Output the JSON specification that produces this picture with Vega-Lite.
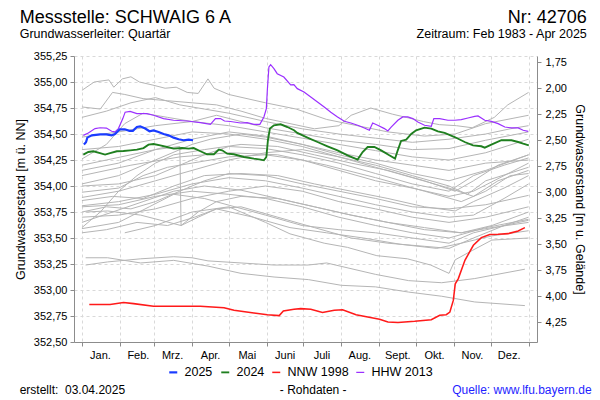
{
"$schema": "https://vega.github.io/schema/vega-lite/v6.json",
"width": 463, "height": 286,
"autosize": {"type": "none"},
"padding": {"left": 74, "top": 56, "right": 63, "bottom": 58},
"background": "white",
"config": {
  "font": "Liberation Sans",
  "view": {"stroke": null},
  "axis": {"labelFont": "Liberation Sans", "titleFont": "Liberation Sans", "labelColor": "#000", "titleColor": "#000", "titleFontWeight": "normal", "domainColor": "#8c8c8c", "tickColor": "#8c8c8c", "gridColor": "#d9d9d9", "gridDash": [3, 3], "tickSize": 4, "labelFontSize": 11, "titleFontSize": 12.5},
  "legend": {"orient": "none", "legendX": 93, "legendY": 310, "direction": "horizontal", "symbolType": "stroke", "symbolSize": 64, "symbolStrokeWidth": 2, "labelFontSize": 12.5, "labelFont": "Liberation Sans", "labelColor": "#000", "columnPadding": 4, "padding": 0, "labelOffset": 5}
},
"datasets": {
"gray": [
{"s":"g01","d":0,"v":354.92},{"s":"g01","d":10,"v":355.0},{"s":"g01","d":22,"v":355.02},{"s":"g01","d":26,"v":354.95},{"s":"g01","d":33,"v":355.03},{"s":"g01","d":40,"v":355.05},{"s":"g01","d":47,"v":355.0},{"s":"g01","d":58,"v":354.97},{"s":"g01","d":68,"v":354.94},{"s":"g01","d":77,"v":354.95},{"s":"g01","d":86,"v":354.9},{"s":"g01","d":95,"v":354.89},{"s":"g01","d":103,"v":355.03},{"s":"g01","d":108,"v":354.94},{"s":"g01","d":120,"v":354.88},{"s":"g01","d":150,"v":354.8},{"s":"g01","d":175,"v":354.74},{"s":"g01","d":200,"v":354.64},{"s":"g01","d":225,"v":354.58},{"s":"g01","d":250,"v":354.52},{"s":"g01","d":280,"v":354.48},{"s":"g01","d":305,"v":354.5},{"s":"g01","d":330,"v":354.6},{"s":"g01","d":365,"v":354.68},
{"s":"g02","d":0,"v":354.76},{"s":"g02","d":15,"v":354.74},{"s":"g02","d":25,"v":354.9},{"s":"g02","d":35,"v":354.88},{"s":"g02","d":50,"v":354.84},{"s":"g02","d":70,"v":354.82},{"s":"g02","d":90,"v":354.8},{"s":"g02","d":110,"v":354.78},{"s":"g02","d":130,"v":354.72},{"s":"g02","d":150,"v":354.65},{"s":"g02","d":170,"v":354.6},{"s":"g02","d":190,"v":354.55},{"s":"g02","d":210,"v":354.58},{"s":"g02","d":220,"v":354.68},{"s":"g02","d":236,"v":354.75},{"s":"g02","d":254,"v":354.69},{"s":"g02","d":265,"v":354.66},{"s":"g02","d":279,"v":354.62},{"s":"g02","d":292,"v":354.59},{"s":"g02","d":306,"v":354.58},{"s":"g02","d":319,"v":354.56},{"s":"g02","d":337,"v":354.66},{"s":"g02","d":348,"v":354.78},{"s":"g02","d":365,"v":354.9},
{"s":"g03","d":0,"v":354.66},{"s":"g03","d":20,"v":354.72},{"s":"g03","d":40,"v":354.8},{"s":"g03","d":60,"v":354.85},{"s":"g03","d":80,"v":354.78},{"s":"g03","d":100,"v":354.74},{"s":"g03","d":120,"v":354.7},{"s":"g03","d":150,"v":354.62},{"s":"g03","d":180,"v":354.55},{"s":"g03","d":210,"v":354.5},{"s":"g03","d":240,"v":354.46},{"s":"g03","d":270,"v":354.42},{"s":"g03","d":300,"v":354.45},{"s":"g03","d":330,"v":354.5},{"s":"g03","d":350,"v":354.55},{"s":"g03","d":365,"v":354.58},
{"s":"g04","d":0,"v":354.47},{"s":"g04","d":30,"v":354.52},{"s":"g04","d":60,"v":354.58},{"s":"g04","d":90,"v":354.62},{"s":"g04","d":110,"v":354.68},{"s":"g04","d":130,"v":354.62},{"s":"g04","d":150,"v":354.56},{"s":"g04","d":180,"v":354.5},{"s":"g04","d":210,"v":354.44},{"s":"g04","d":240,"v":354.4},{"s":"g04","d":270,"v":354.35},{"s":"g04","d":300,"v":354.36},{"s":"g04","d":330,"v":354.44},{"s":"g04","d":365,"v":354.52},
{"s":"g05","d":0,"v":354.26},{"s":"g05","d":20,"v":354.4},{"s":"g05","d":35,"v":354.6},{"s":"g05","d":50,"v":354.7},{"s":"g05","d":70,"v":354.66},{"s":"g05","d":90,"v":354.62},{"s":"g05","d":120,"v":354.58},{"s":"g05","d":150,"v":354.52},{"s":"g05","d":180,"v":354.46},{"s":"g05","d":210,"v":354.4},{"s":"g05","d":240,"v":354.34},{"s":"g05","d":270,"v":354.28},{"s":"g05","d":300,"v":354.25},{"s":"g05","d":330,"v":354.32},{"s":"g05","d":365,"v":354.45},
{"s":"g06","d":0,"v":354.02},{"s":"g06","d":30,"v":354.1},{"s":"g06","d":60,"v":354.25},{"s":"g06","d":90,"v":354.4},{"s":"g06","d":105,"v":354.45},{"s":"g06","d":130,"v":354.5},{"s":"g06","d":150,"v":354.47},{"s":"g06","d":180,"v":354.4},{"s":"g06","d":210,"v":354.3},{"s":"g06","d":240,"v":354.22},{"s":"g06","d":270,"v":354.12},{"s":"g06","d":300,"v":354.05},{"s":"g06","d":330,"v":354.15},{"s":"g06","d":365,"v":354.3},
{"s":"g07","d":0,"v":354.0},{"s":"g07","d":30,"v":354.02},{"s":"g07","d":60,"v":354.1},{"s":"g07","d":80,"v":354.2},{"s":"g07","d":100,"v":354.3},{"s":"g07","d":120,"v":354.38},{"s":"g07","d":150,"v":354.36},{"s":"g07","d":180,"v":354.3},{"s":"g07","d":210,"v":354.22},{"s":"g07","d":240,"v":354.12},{"s":"g07","d":270,"v":354.02},{"s":"g07","d":300,"v":353.95},{"s":"g07","d":320,"v":354.1},{"s":"g07","d":345,"v":354.2},{"s":"g07","d":365,"v":354.27},
{"s":"g08","d":0,"v":353.94},{"s":"g08","d":30,"v":353.98},{"s":"g08","d":50,"v":354.1},{"s":"g08","d":70,"v":354.18},{"s":"g08","d":90,"v":354.22},{"s":"g08","d":120,"v":354.28},{"s":"g08","d":150,"v":354.3},{"s":"g08","d":180,"v":354.25},{"s":"g08","d":210,"v":354.15},{"s":"g08","d":240,"v":354.05},{"s":"g08","d":270,"v":353.98},{"s":"g08","d":300,"v":353.9},{"s":"g08","d":320,"v":353.95},{"s":"g08","d":345,"v":354.1},{"s":"g08","d":365,"v":354.22},
{"s":"g09","d":0,"v":353.89},{"s":"g09","d":30,"v":353.95},{"s":"g09","d":60,"v":354.05},{"s":"g09","d":90,"v":354.15},{"s":"g09","d":120,"v":354.25},{"s":"g09","d":150,"v":354.32},{"s":"g09","d":180,"v":354.35},{"s":"g09","d":210,"v":354.28},{"s":"g09","d":240,"v":354.2},{"s":"g09","d":270,"v":354.1},{"s":"g09","d":300,"v":354.0},{"s":"g09","d":315,"v":353.92},{"s":"g09","d":330,"v":354.05},{"s":"g09","d":365,"v":354.18},
{"s":"g10","d":0,"v":353.86},{"s":"g10","d":25,"v":353.9},{"s":"g10","d":50,"v":353.88},{"s":"g10","d":75,"v":354.0},{"s":"g10","d":100,"v":354.1},{"s":"g10","d":130,"v":354.12},{"s":"g10","d":160,"v":354.1},{"s":"g10","d":190,"v":354.02},{"s":"g10","d":220,"v":353.95},{"s":"g10","d":250,"v":353.88},{"s":"g10","d":280,"v":353.8},{"s":"g10","d":305,"v":353.76},{"s":"g10","d":320,"v":353.85},{"s":"g10","d":345,"v":353.98},{"s":"g10","d":365,"v":354.1},
{"s":"g11","d":0,"v":353.81},{"s":"g11","d":30,"v":353.85},{"s":"g11","d":60,"v":353.92},{"s":"g11","d":90,"v":354.02},{"s":"g11","d":120,"v":354.08},{"s":"g11","d":150,"v":354.05},{"s":"g11","d":180,"v":353.98},{"s":"g11","d":210,"v":353.9},{"s":"g11","d":240,"v":353.82},{"s":"g11","d":270,"v":353.75},{"s":"g11","d":300,"v":353.7},{"s":"g11","d":320,"v":353.72},{"s":"g11","d":345,"v":353.88},{"s":"g11","d":365,"v":354.02},
{"s":"g12","d":0,"v":353.75},{"s":"g12","d":20,"v":353.8},{"s":"g12","d":40,"v":353.78},{"s":"g12","d":60,"v":353.85},{"s":"g12","d":80,"v":353.95},{"s":"g12","d":100,"v":354.05},{"s":"g12","d":120,"v":354.12},{"s":"g12","d":150,"v":354.1},{"s":"g12","d":180,"v":354.02},{"s":"g12","d":210,"v":353.95},{"s":"g12","d":240,"v":353.88},{"s":"g12","d":270,"v":353.8},{"s":"g12","d":300,"v":353.78},{"s":"g12","d":330,"v":353.82},{"s":"g12","d":365,"v":353.91},
{"s":"g13","d":0,"v":353.7},{"s":"g13","d":30,"v":353.72},{"s":"g13","d":60,"v":353.78},{"s":"g13","d":90,"v":353.88},{"s":"g13","d":120,"v":353.95},{"s":"g13","d":150,"v":354.0},{"s":"g13","d":180,"v":353.95},{"s":"g13","d":210,"v":353.85},{"s":"g13","d":240,"v":353.78},{"s":"g13","d":270,"v":353.7},{"s":"g13","d":300,"v":353.65},{"s":"g13","d":330,"v":353.7},{"s":"g13","d":365,"v":353.8},
{"s":"g14","d":0,"v":353.65},{"s":"g14","d":25,"v":353.75},{"s":"g14","d":50,"v":353.85},{"s":"g14","d":75,"v":353.95},{"s":"g14","d":100,"v":354.0},{"s":"g14","d":130,"v":353.96},{"s":"g14","d":160,"v":353.88},{"s":"g14","d":190,"v":353.8},{"s":"g14","d":220,"v":353.72},{"s":"g14","d":250,"v":353.65},{"s":"g14","d":280,"v":353.6},{"s":"g14","d":310,"v":353.55},{"s":"g14","d":335,"v":353.62},{"s":"g14","d":365,"v":353.75},
{"s":"g15","d":0,"v":353.59},{"s":"g15","d":30,"v":353.65},{"s":"g15","d":55,"v":353.8},{"s":"g15","d":75,"v":353.92},{"s":"g15","d":100,"v":353.88},{"s":"g15","d":125,"v":353.8},{"s":"g15","d":150,"v":353.72},{"s":"g15","d":180,"v":353.62},{"s":"g15","d":210,"v":353.58},{"s":"g15","d":240,"v":353.55},{"s":"g15","d":270,"v":353.5},{"s":"g15","d":300,"v":353.45},{"s":"g15","d":320,"v":353.55},{"s":"g15","d":345,"v":353.62},{"s":"g15","d":365,"v":353.67},
{"s":"g16","d":0,"v":353.55},{"s":"g16","d":20,"v":353.58},{"s":"g16","d":45,"v":353.65},{"s":"g16","d":70,"v":353.62},{"s":"g16","d":92,"v":353.7},{"s":"g16","d":110,"v":353.78},{"s":"g16","d":140,"v":353.7},{"s":"g16","d":170,"v":353.6},{"s":"g16","d":200,"v":353.55},{"s":"g16","d":230,"v":353.5},{"s":"g16","d":260,"v":353.44},{"s":"g16","d":290,"v":353.4},{"s":"g16","d":310,"v":353.45},{"s":"g16","d":335,"v":353.52},{"s":"g16","d":365,"v":353.57},
{"s":"g17","d":3,"v":353.31},{"s":"g17","d":21,"v":353.31},{"s":"g17","d":48,"v":353.26},{"s":"g17","d":75,"v":353.285},{"s":"g17","d":103,"v":353.23},{"s":"g17","d":130,"v":353.16},{"s":"g17","d":157,"v":353.125},{"s":"g17","d":185,"v":353.1},{"s":"g17","d":212,"v":353.045},{"s":"g17","d":240,"v":353.03},{"s":"g17","d":267,"v":352.98},{"s":"g17","d":294,"v":352.94},{"s":"g17","d":321,"v":352.885},{"s":"g17","d":362,"v":352.85},
{"s":"g18","d":3,"v":353.24},{"s":"g18","d":21,"v":353.27},{"s":"g18","d":48,"v":353.3},{"s":"g18","d":75,"v":353.32},{"s":"g18","d":90,"v":353.31},{"s":"g18","d":103,"v":353.28},{"s":"g18","d":130,"v":353.26},{"s":"g18","d":157,"v":353.24},{"s":"g18","d":185,"v":353.24},{"s":"g18","d":200,"v":353.26},{"s":"g18","d":240,"v":353.15},{"s":"g18","d":267,"v":353.09},{"s":"g18","d":294,"v":353.07},{"s":"g18","d":321,"v":353.11},{"s":"g18","d":362,"v":353.2},
{"s":"g19","d":35,"v":353.55},{"s":"g19","d":60,"v":353.62},{"s":"g19","d":90,"v":353.75},{"s":"g19","d":120,"v":353.8},{"s":"g19","d":150,"v":353.65},{"s":"g19","d":170,"v":353.54},{"s":"g19","d":198,"v":353.45},{"s":"g19","d":217,"v":353.41},{"s":"g19","d":241,"v":353.33},{"s":"g19","d":266,"v":353.3},{"s":"g19","d":285,"v":353.24},{"s":"g19","d":300,"v":353.16},{"s":"g19","d":305,"v":353.29},{"s":"g19","d":319,"v":353.38},{"s":"g19","d":335,"v":353.48},{"s":"g19","d":365,"v":353.5},
{"s":"g20","d":0,"v":353.6},{"s":"g20","d":15,"v":353.75},{"s":"g20","d":30,"v":353.95},{"s":"g20","d":45,"v":354.1},{"s":"g20","d":60,"v":354.22},{"s":"g20","d":75,"v":354.3},{"s":"g20","d":100,"v":354.35},{"s":"g20","d":130,"v":354.4},{"s":"g20","d":160,"v":354.38},{"s":"g20","d":190,"v":354.3},{"s":"g20","d":220,"v":354.22},{"s":"g20","d":250,"v":354.15},{"s":"g20","d":280,"v":354.05},{"s":"g20","d":305,"v":353.95},{"s":"g20","d":320,"v":354.05},{"s":"g20","d":340,"v":354.2},{"s":"g20","d":365,"v":354.3},
{"s":"g21","d":0,"v":354.15},{"s":"g21","d":30,"v":354.22},{"s":"g21","d":60,"v":354.35},{"s":"g21","d":90,"v":354.45},{"s":"g21","d":120,"v":354.52},{"s":"g21","d":150,"v":354.48},{"s":"g21","d":180,"v":354.4},{"s":"g21","d":210,"v":354.32},{"s":"g21","d":240,"v":354.25},{"s":"g21","d":270,"v":354.2},{"s":"g21","d":300,"v":354.15},{"s":"g21","d":330,"v":354.22},{"s":"g21","d":365,"v":354.25},
{"s":"g22","d":0,"v":354.2},{"s":"g22","d":20,"v":354.25},{"s":"g22","d":40,"v":354.3},{"s":"g22","d":60,"v":354.35},{"s":"g22","d":80,"v":354.38},{"s":"g22","d":81,"v":353.62},{"s":"g22","d":95,"v":353.75},{"s":"g22","d":110,"v":353.85},{"s":"g22","d":130,"v":353.9},{"s":"g22","d":160,"v":353.88},{"s":"g22","d":190,"v":353.8},{"s":"g22","d":220,"v":353.72},{"s":"g22","d":250,"v":353.65},{"s":"g22","d":280,"v":353.58},{"s":"g22","d":310,"v":353.55},{"s":"g22","d":335,"v":353.6},{"s":"g22","d":365,"v":353.65},
{"s":"g23","d":3,"v":353.75},{"s":"g23","d":21,"v":353.76},{"s":"g23","d":48,"v":353.72},{"s":"g23","d":81,"v":353.62},{"s":"g23","d":95,"v":353.7},{"s":"g23","d":110,"v":353.78},{"s":"g23","d":130,"v":353.8},{"s":"g23","d":160,"v":353.7},{"s":"g23","d":190,"v":353.6},{"s":"g23","d":220,"v":353.5},{"s":"g23","d":250,"v":353.45},{"s":"g23","d":280,"v":353.42},{"s":"g23","d":300,"v":353.4},{"s":"g23","d":320,"v":353.5},{"s":"g23","d":345,"v":353.62},{"s":"g23","d":365,"v":353.7},
{"s":"g24","d":0,"v":354.35},{"s":"g24","d":30,"v":354.38},{"s":"g24","d":60,"v":354.45},{"s":"g24","d":90,"v":354.52},{"s":"g24","d":120,"v":354.5},{"s":"g24","d":150,"v":354.45},{"s":"g24","d":180,"v":354.38},{"s":"g24","d":210,"v":354.28},{"s":"g24","d":240,"v":354.18},{"s":"g24","d":270,"v":354.08},{"s":"g24","d":300,"v":353.98},{"s":"g24","d":320,"v":353.9},{"s":"g24","d":340,"v":354.05},{"s":"g24","d":365,"v":354.15},
{"s":"g25","d":0,"v":354.1},{"s":"g25","d":40,"v":354.2},{"s":"g25","d":80,"v":354.28},{"s":"g25","d":120,"v":354.32},{"s":"g25","d":160,"v":354.3},{"s":"g25","d":200,"v":354.2},{"s":"g25","d":240,"v":354.08},{"s":"g25","d":280,"v":353.95},{"s":"g25","d":310,"v":353.85},{"s":"g25","d":330,"v":353.95},{"s":"g25","d":350,"v":354.1},{"s":"g25","d":365,"v":354.12},
{"s":"g26","d":0,"v":353.8},{"s":"g26","d":30,"v":353.82},{"s":"g26","d":60,"v":353.9},{"s":"g26","d":90,"v":353.95},{"s":"g26","d":120,"v":353.92},{"s":"g26","d":150,"v":353.88},{"s":"g26","d":180,"v":353.8},{"s":"g26","d":210,"v":353.7},{"s":"g26","d":240,"v":353.62},{"s":"g26","d":270,"v":353.55},{"s":"g26","d":300,"v":353.5},{"s":"g26","d":330,"v":353.6},{"s":"g26","d":365,"v":353.68}
],
"hl": [
{"s":"NNW 1998","d":6,"v":352.86},{"s":"NNW 1998","d":23,"v":352.86},{"s":"NNW 1998","d":34,"v":352.879},{"s":"NNW 1998","d":42.2,"v":352.869},{"s":"NNW 1998","d":58.5,"v":352.843},{"s":"NNW 1998","d":69.5,"v":352.843},{"s":"NNW 1998","d":96.8,"v":352.843},{"s":"NNW 1998","d":116.1,"v":352.83},{"s":"NNW 1998","d":124.3,"v":352.805},{"s":"NNW 1998","d":140.5,"v":352.779},{"s":"NNW 1998","d":151.5,"v":352.763},{"s":"NNW 1998","d":161.2,"v":352.754},{"s":"NNW 1998","d":164.6,"v":352.798},{"s":"NNW 1998","d":173.3,"v":352.814},{"s":"NNW 1998","d":178.8,"v":352.821},{"s":"NNW 1998","d":187,"v":352.814},{"s":"NNW 1998","d":196.6,"v":352.783},{"s":"NNW 1998","d":206.2,"v":352.805},{"s":"NNW 1998","d":213,"v":352.81},{"s":"NNW 1998","d":224,"v":352.763},{"s":"NNW 1998","d":233.6,"v":352.74},{"s":"NNW 1998","d":243.2,"v":352.718},{"s":"NNW 1998","d":250.1,"v":352.692},{"s":"NNW 1998","d":258.3,"v":352.687},{"s":"NNW 1998","d":271.9,"v":352.699},{"s":"NNW 1998","d":285.5,"v":352.715},{"s":"NNW 1998","d":292.4,"v":352.757},{"s":"NNW 1998","d":297.7,"v":352.763},{"s":"NNW 1998","d":300.7,"v":352.788},{"s":"NNW 1998","d":303.5,"v":352.9},{"s":"NNW 1998","d":305.1,"v":353.06},{"s":"NNW 1998","d":307.6,"v":353.11},{"s":"NNW 1998","d":313,"v":353.286},{"s":"NNW 1998","d":319.9,"v":353.43},{"s":"NNW 1998","d":326.4,"v":353.504},{"s":"NNW 1998","d":333.3,"v":353.533},{"s":"NNW 1998","d":340.1,"v":353.536},{"s":"NNW 1998","d":348.3,"v":353.542},{"s":"NNW 1998","d":356.5,"v":353.567},{"s":"NNW 1998","d":362,"v":353.6},
{"s":"HHW 2013","d":1.1,"v":354.487},{"s":"HHW 2013","d":5.2,"v":354.51},{"s":"HHW 2013","d":10.7,"v":354.552},{"s":"HHW 2013","d":14.8,"v":354.56},{"s":"HHW 2013","d":20,"v":354.557},{"s":"HHW 2013","d":24.3,"v":354.526},{"s":"HHW 2013","d":27,"v":354.52},{"s":"HHW 2013","d":29.8,"v":354.552},{"s":"HHW 2013","d":33.4,"v":354.648},{"s":"HHW 2013","d":35.3,"v":354.71},{"s":"HHW 2013","d":39.4,"v":354.718},{"s":"HHW 2013","d":44.9,"v":354.696},{"s":"HHW 2013","d":53.1,"v":354.696},{"s":"HHW 2013","d":58.5,"v":354.68},{"s":"HHW 2013","d":66.7,"v":354.648},{"s":"HHW 2013","d":74.9,"v":354.632},{"s":"HHW 2013","d":85.9,"v":354.625},{"s":"HHW 2013","d":96.8,"v":354.61},{"s":"HHW 2013","d":105,"v":354.593},{"s":"HHW 2013","d":109.1,"v":354.648},{"s":"HHW 2013","d":113.2,"v":354.648},{"s":"HHW 2013","d":116.5,"v":354.625},{"s":"HHW 2013","d":121.4,"v":354.62},{"s":"HHW 2013","d":129.6,"v":354.606},{"s":"HHW 2013","d":135,"v":354.61},{"s":"HHW 2013","d":140.5,"v":354.593},{"s":"HHW 2013","d":145.4,"v":354.593},{"s":"HHW 2013","d":148.7,"v":354.664},{"s":"HHW 2013","d":150.7,"v":354.744},{"s":"HHW 2013","d":151.5,"v":354.92},{"s":"HHW 2013","d":152.8,"v":355.144},{"s":"HHW 2013","d":154.2,"v":355.167},{"s":"HHW 2013","d":156.9,"v":355.129},{"s":"HHW 2013","d":159.6,"v":355.08},{"s":"HHW 2013","d":165,"v":355.048},{"s":"HHW 2013","d":170.6,"v":354.972},{"s":"HHW 2013","d":173.2,"v":354.975},{"s":"HHW 2013","d":176,"v":354.936},{"s":"HHW 2013","d":181.5,"v":354.904},{"s":"HHW 2013","d":187,"v":354.856},{"s":"HHW 2013","d":192.5,"v":354.808},{"s":"HHW 2013","d":198,"v":354.76},{"s":"HHW 2013","d":203.4,"v":354.71},{"s":"HHW 2013","d":208.9,"v":354.664},{"s":"HHW 2013","d":214.4,"v":354.622},{"s":"HHW 2013","d":219.8,"v":354.606},{"s":"HHW 2013","d":225.3,"v":354.584},{"s":"HHW 2013","d":230.8,"v":354.558},{"s":"HHW 2013","d":234.9,"v":354.536},{"s":"HHW 2013","d":237.6,"v":354.606},{"s":"HHW 2013","d":241.7,"v":354.584},{"s":"HHW 2013","d":247.2,"v":354.552},{"s":"HHW 2013","d":250,"v":354.529},{"s":"HHW 2013","d":252.7,"v":354.567},{"s":"HHW 2013","d":258.2,"v":354.632},{"s":"HHW 2013","d":262.2,"v":354.664},{"s":"HHW 2013","d":266.3,"v":354.664},{"s":"HHW 2013","d":270.4,"v":354.648},{"s":"HHW 2013","d":274.5,"v":354.616},{"s":"HHW 2013","d":280,"v":354.584},{"s":"HHW 2013","d":285.5,"v":354.574},{"s":"HHW 2013","d":287.6,"v":354.648},{"s":"HHW 2013","d":292.3,"v":354.648},{"s":"HHW 2013","d":299.1,"v":354.632},{"s":"HHW 2013","d":304.6,"v":354.632},{"s":"HHW 2013","d":310,"v":354.638},{"s":"HHW 2013","d":315.5,"v":354.654},{"s":"HHW 2013","d":321,"v":354.67},{"s":"HHW 2013","d":323.7,"v":354.674},{"s":"HHW 2013","d":329.2,"v":354.632},{"s":"HHW 2013","d":334.6,"v":354.622},{"s":"HHW 2013","d":340.1,"v":354.6},{"s":"HHW 2013","d":345.6,"v":354.567},{"s":"HHW 2013","d":351,"v":354.558},{"s":"HHW 2013","d":356.5,"v":354.558},{"s":"HHW 2013","d":360.6,"v":354.536},{"s":"HHW 2013","d":364.7,"v":354.526},
{"s":"2024","d":1.1,"v":354.302},{"s":"2024","d":5.2,"v":354.327},{"s":"2024","d":9.3,"v":354.334},{"s":"2024","d":14.8,"v":354.317},{"s":"2024","d":18.9,"v":354.302},{"s":"2024","d":23,"v":354.317},{"s":"2024","d":28.5,"v":354.334},{"s":"2024","d":33.9,"v":354.337},{"s":"2024","d":39.4,"v":354.343},{"s":"2024","d":44.9,"v":354.35},{"s":"2024","d":50.3,"v":354.365},{"s":"2024","d":54.4,"v":354.398},{"s":"2024","d":58.5,"v":354.404},{"s":"2024","d":64,"v":354.39},{"s":"2024","d":69.5,"v":354.375},{"s":"2024","d":74.9,"v":354.36},{"s":"2024","d":81.8,"v":354.365},{"s":"2024","d":87.2,"v":354.36},{"s":"2024","d":91.3,"v":354.365},{"s":"2024","d":96.8,"v":354.334},{"s":"2024","d":102.3,"v":354.305},{"s":"2024","d":107.8,"v":354.305},{"s":"2024","d":111.9,"v":354.35},{"s":"2024","d":114.6,"v":354.343},{"s":"2024","d":118.7,"v":354.311},{"s":"2024","d":124.1,"v":354.305},{"s":"2024","d":132.4,"v":354.279},{"s":"2024","d":140.5,"v":354.263},{"s":"2024","d":146,"v":354.254},{"s":"2024","d":148.7,"v":354.247},{"s":"2024","d":150.7,"v":354.279},{"s":"2024","d":152,"v":354.44},{"s":"2024","d":153.6,"v":354.552},{"s":"2024","d":156.9,"v":354.584},{"s":"2024","d":162.4,"v":354.593},{"s":"2024","d":167.9,"v":354.567},{"s":"2024","d":173.3,"v":354.536},{"s":"2024","d":176,"v":354.51},{"s":"2024","d":184.3,"v":354.465},{"s":"2024","d":192.5,"v":354.423},{"s":"2024","d":200.7,"v":354.382},{"s":"2024","d":208.9,"v":354.343},{"s":"2024","d":217.1,"v":354.295},{"s":"2024","d":225.3,"v":354.254},{"s":"2024","d":229.4,"v":354.327},{"s":"2024","d":233.5,"v":354.375},{"s":"2024","d":239,"v":354.375},{"s":"2024","d":244.5,"v":354.343},{"s":"2024","d":251.2,"v":354.295},{"s":"2024","d":255.9,"v":354.263},{"s":"2024","d":258.1,"v":354.343},{"s":"2024","d":260.8,"v":354.433},{"s":"2024","d":265,"v":354.446},{"s":"2024","d":269.1,"v":354.5},{"s":"2024","d":273.1,"v":354.536},{"s":"2024","d":280,"v":354.561},{"s":"2024","d":285.5,"v":354.552},{"s":"2024","d":290.9,"v":354.526},{"s":"2024","d":296.4,"v":354.51},{"s":"2024","d":304.6,"v":354.471},{"s":"2024","d":312.8,"v":354.423},{"s":"2024","d":319.6,"v":354.391},{"s":"2024","d":326.4,"v":354.382},{"s":"2024","d":329.2,"v":354.369},{"s":"2024","d":334.6,"v":354.398},{"s":"2024","d":342.8,"v":354.44},{"s":"2024","d":351,"v":354.44},{"s":"2024","d":356.5,"v":354.423},{"s":"2024","d":360.6,"v":354.407},{"s":"2024","d":365.2,"v":354.391},
{"s":"2025","d":1.6,"v":354.398},{"s":"2025","d":3.3,"v":354.42},{"s":"2025","d":4.4,"v":354.465},{"s":"2025","d":8,"v":354.487},{"s":"2025","d":14.8,"v":354.497},{"s":"2025","d":20,"v":354.497},{"s":"2025","d":24.3,"v":354.487},{"s":"2025","d":27,"v":354.5},{"s":"2025","d":31,"v":354.545},{"s":"2025","d":35,"v":354.545},{"s":"2025","d":38.8,"v":354.53},{"s":"2025","d":41.6,"v":354.53},{"s":"2025","d":44.9,"v":354.567},{"s":"2025","d":47.6,"v":354.574},{"s":"2025","d":51.7,"v":354.552},{"s":"2025","d":55.2,"v":354.526},{"s":"2025","d":58.5,"v":354.535},{"s":"2025","d":62.6,"v":354.52},{"s":"2025","d":66.7,"v":354.5},{"s":"2025","d":70.8,"v":354.487},{"s":"2025","d":74.9,"v":354.465},{"s":"2025","d":79,"v":354.449},{"s":"2025","d":83.1,"v":354.44},{"s":"2025","d":87.2,"v":354.446},{"s":"2025","d":90.8,"v":354.44}
],
"one": [{}]
},
"resolve": {"axis": {"y": "independent"}},
"layer": [
{
  "data": {"name": "gray"},
  "mark": {"type": "line", "color": "#b5b5b5", "strokeWidth": 1},
  "encoding": {
    "x": {"field": "d", "type": "quantitative", "scale": {"domain": [-6.5, 371.9], "nice": false, "zero": false},
      "axis": {"values": [0,31,59,90,120,151,181,212,243,273,304,334,365], "grid": true, "title": null, "labelOffset": 18, "labelFlush": false, "labelOverlap": false, "labelBound": false, "labelPadding": 3, "labelExpr": "datum.value >= 365 ? '' : datum.value >= 334 ? 'Dez.' : datum.value >= 304 ? 'Nov.' : datum.value >= 273 ? 'Okt.' : datum.value >= 243 ? 'Sept.' : datum.value >= 212 ? 'Aug.' : datum.value >= 181 ? 'Juli' : datum.value >= 151 ? 'Juni' : datum.value >= 120 ? 'Mai' : datum.value >= 90 ? 'Apr.' : datum.value >= 59 ? 'Mrz.' : datum.value >= 31 ? 'Feb.' : 'Jan.'"}},
    "y": {"field": "v", "type": "quantitative", "scale": {"domain": [352.5, 355.25], "nice": false, "zero": false},
      "axis": {"orient": "left", "values": [352.5,352.75,353,353.25,353.5,353.75,354,354.25,354.5,354.75,355,355.25], "grid": true, "title": "Grundwasserstand [m ü. NN]", "titlePadding": 6, "labelPadding": 3,
        "labelExpr": "replace(format(datum.value, '.2f'), '.', ',')"}},
    "detail": {"field": "s"}
  }
},
{
  "data": {"name": "hl"},
  "mark": {"type": "line"},
  "encoding": {
    "x": {"field": "d", "type": "quantitative", "axis": {"values": [0,31,59,90,120,151,181,212,243,273,304,334,365], "grid": true, "title": null, "labelOffset": 18, "labelFlush": false, "labelOverlap": false, "labelBound": false, "labelPadding": 3, "labelExpr": "datum.value >= 365 ? '' : datum.value >= 334 ? 'Dez.' : datum.value >= 304 ? 'Nov.' : datum.value >= 273 ? 'Okt.' : datum.value >= 243 ? 'Sept.' : datum.value >= 212 ? 'Aug.' : datum.value >= 181 ? 'Juli' : datum.value >= 151 ? 'Juni' : datum.value >= 120 ? 'Mai' : datum.value >= 90 ? 'Apr.' : datum.value >= 59 ? 'Mrz.' : datum.value >= 31 ? 'Feb.' : 'Jan.'"}},
    "y": {"field": "v", "type": "quantitative",
      "axis": {"orient": "right", "values": [355.19,354.94,354.69,354.44,354.19,353.94,353.69,353.44,353.19,352.94,352.69], "grid": false, "title": "Grundwasserstand [m u. Gelände]", "titlePadding": 6, "labelPadding": 4,
        "labelExpr": "replace(format(356.94 - datum.value, '.2f'), '.', ',')"}},
    "color": {"field": "s", "type": "nominal", "scale": {"domain": ["2025", "2024", "NNW 1998", "HHW 2013"], "range": ["#1a3cff", "#1f7f1f", "#ff1a1a", "#9b30ff"]}, "legend": {"title": null}},
    "strokeWidth": {"field": "s", "type": "nominal", "scale": {"domain": ["2025", "2024", "NNW 1998", "HHW 2013"], "range": [2.2, 1.2, 1.3, 1.2]}, "legend": null}
  }
},
{
  "data": {"name": "one"},
  "mark": {"type": "text", "text": "Messstelle: SCHWAIG 6 A", "align": "left", "baseline": "alphabetic", "fontSize": 18, "font": "Liberation Sans", "color": "#000"},
  "encoding": {"x": {"datum": -50.9, "type": "quantitative", "axis": {"values": [0,31,59,90,120,151,181,212,243,273,304,334,365], "grid": true, "title": null, "labelOffset": 18, "labelFlush": false, "labelOverlap": false, "labelBound": false, "labelPadding": 3, "labelExpr": "datum.value >= 365 ? '' : datum.value >= 334 ? 'Dez.' : datum.value >= 304 ? 'Nov.' : datum.value >= 273 ? 'Okt.' : datum.value >= 243 ? 'Sept.' : datum.value >= 212 ? 'Aug.' : datum.value >= 181 ? 'Juli' : datum.value >= 151 ? 'Juni' : datum.value >= 120 ? 'Mai' : datum.value >= 90 ? 'Apr.' : datum.value >= 59 ? 'Mrz.' : datum.value >= 31 ? 'Feb.' : 'Jan.'"}}, "y": {"datum": 355.57, "type": "quantitative", "axis": null}}
},
{
  "data": {"name": "one"},
  "mark": {"type": "text", "text": "Grundwasserleiter: Quartär", "align": "left", "baseline": "alphabetic", "fontSize": 12.5, "font": "Liberation Sans", "color": "#000"},
  "encoding": {"x": {"datum": -50.9, "type": "quantitative", "axis": {"values": [0,31,59,90,120,151,181,212,243,273,304,334,365], "grid": true, "title": null, "labelOffset": 18, "labelFlush": false, "labelOverlap": false, "labelBound": false, "labelPadding": 3, "labelExpr": "datum.value >= 365 ? '' : datum.value >= 334 ? 'Dez.' : datum.value >= 304 ? 'Nov.' : datum.value >= 273 ? 'Okt.' : datum.value >= 243 ? 'Sept.' : datum.value >= 212 ? 'Aug.' : datum.value >= 181 ? 'Juli' : datum.value >= 151 ? 'Juni' : datum.value >= 120 ? 'Mai' : datum.value >= 90 ? 'Apr.' : datum.value >= 59 ? 'Mrz.' : datum.value >= 31 ? 'Feb.' : 'Jan.'"}}, "y": {"datum": 355.42, "type": "quantitative", "axis": null}}
},
{
  "data": {"name": "one"},
  "mark": {"type": "text", "text": "Nr: 42706", "align": "right", "baseline": "alphabetic", "fontSize": 18, "font": "Liberation Sans", "color": "#000"},
  "encoding": {"x": {"datum": 412.6, "type": "quantitative", "axis": {"values": [0,31,59,90,120,151,181,212,243,273,304,334,365], "grid": true, "title": null, "labelOffset": 18, "labelFlush": false, "labelOverlap": false, "labelBound": false, "labelPadding": 3, "labelExpr": "datum.value >= 365 ? '' : datum.value >= 334 ? 'Dez.' : datum.value >= 304 ? 'Nov.' : datum.value >= 273 ? 'Okt.' : datum.value >= 243 ? 'Sept.' : datum.value >= 212 ? 'Aug.' : datum.value >= 181 ? 'Juli' : datum.value >= 151 ? 'Juni' : datum.value >= 120 ? 'Mai' : datum.value >= 90 ? 'Apr.' : datum.value >= 59 ? 'Mrz.' : datum.value >= 31 ? 'Feb.' : 'Jan.'"}}, "y": {"datum": 355.57, "type": "quantitative", "axis": null}}
},
{
  "data": {"name": "one"},
  "mark": {"type": "text", "text": "Zeitraum: Feb 1983 - Apr 2025", "align": "right", "baseline": "alphabetic", "fontSize": 12.5, "font": "Liberation Sans", "color": "#000"},
  "encoding": {"x": {"datum": 412.6, "type": "quantitative", "axis": {"values": [0,31,59,90,120,151,181,212,243,273,304,334,365], "grid": true, "title": null, "labelOffset": 18, "labelFlush": false, "labelOverlap": false, "labelBound": false, "labelPadding": 3, "labelExpr": "datum.value >= 365 ? '' : datum.value >= 334 ? 'Dez.' : datum.value >= 304 ? 'Nov.' : datum.value >= 273 ? 'Okt.' : datum.value >= 243 ? 'Sept.' : datum.value >= 212 ? 'Aug.' : datum.value >= 181 ? 'Juli' : datum.value >= 151 ? 'Juni' : datum.value >= 120 ? 'Mai' : datum.value >= 90 ? 'Apr.' : datum.value >= 59 ? 'Mrz.' : datum.value >= 31 ? 'Feb.' : 'Jan.'"}}, "y": {"datum": 355.42, "type": "quantitative", "axis": null}}
},
{
  "data": {"name": "one"},
  "mark": {"type": "text", "text": "erstellt:\u00a0 03.04.2025", "align": "left", "baseline": "alphabetic", "fontSize": 12, "font": "Liberation Sans", "color": "#000"},
  "encoding": {"x": {"datum": -50.9, "type": "quantitative", "axis": {"values": [0,31,59,90,120,151,181,212,243,273,304,334,365], "grid": true, "title": null, "labelOffset": 18, "labelFlush": false, "labelOverlap": false, "labelBound": false, "labelPadding": 3, "labelExpr": "datum.value >= 365 ? '' : datum.value >= 334 ? 'Dez.' : datum.value >= 304 ? 'Nov.' : datum.value >= 273 ? 'Okt.' : datum.value >= 243 ? 'Sept.' : datum.value >= 212 ? 'Aug.' : datum.value >= 181 ? 'Juli' : datum.value >= 151 ? 'Juni' : datum.value >= 120 ? 'Mai' : datum.value >= 90 ? 'Apr.' : datum.value >= 59 ? 'Mrz.' : datum.value >= 31 ? 'Feb.' : 'Jan.'"}}, "y": {"datum": 352.0, "type": "quantitative", "axis": null}}
},
{
  "data": {"name": "one"},
  "mark": {"type": "text", "text": "- Rohdaten -", "align": "center", "baseline": "alphabetic", "fontSize": 12, "font": "Liberation Sans", "color": "#000"},
  "encoding": {"x": {"datum": 189, "type": "quantitative", "axis": {"values": [0,31,59,90,120,151,181,212,243,273,304,334,365], "grid": true, "title": null, "labelOffset": 18, "labelFlush": false, "labelOverlap": false, "labelBound": false, "labelPadding": 3, "labelExpr": "datum.value >= 365 ? '' : datum.value >= 334 ? 'Dez.' : datum.value >= 304 ? 'Nov.' : datum.value >= 273 ? 'Okt.' : datum.value >= 243 ? 'Sept.' : datum.value >= 212 ? 'Aug.' : datum.value >= 181 ? 'Juli' : datum.value >= 151 ? 'Juni' : datum.value >= 120 ? 'Mai' : datum.value >= 90 ? 'Apr.' : datum.value >= 59 ? 'Mrz.' : datum.value >= 31 ? 'Feb.' : 'Jan.'"}}, "y": {"datum": 352.0, "type": "quantitative", "axis": null}}
},
{
  "data": {"name": "one"},
  "mark": {"type": "text", "text": "Quelle: www.lfu.bayern.de", "align": "right", "baseline": "alphabetic", "fontSize": 12, "font": "Liberation Sans", "color": "#1f1fff"},
  "encoding": {"x": {"datum": 416.5, "type": "quantitative", "axis": {"values": [0,31,59,90,120,151,181,212,243,273,304,334,365], "grid": true, "title": null, "labelOffset": 18, "labelFlush": false, "labelOverlap": false, "labelBound": false, "labelPadding": 3, "labelExpr": "datum.value >= 365 ? '' : datum.value >= 334 ? 'Dez.' : datum.value >= 304 ? 'Nov.' : datum.value >= 273 ? 'Okt.' : datum.value >= 243 ? 'Sept.' : datum.value >= 212 ? 'Aug.' : datum.value >= 181 ? 'Juli' : datum.value >= 151 ? 'Juni' : datum.value >= 120 ? 'Mai' : datum.value >= 90 ? 'Apr.' : datum.value >= 59 ? 'Mrz.' : datum.value >= 31 ? 'Feb.' : 'Jan.'"}}, "y": {"datum": 352.0, "type": "quantitative", "axis": null}}
}
]
}
